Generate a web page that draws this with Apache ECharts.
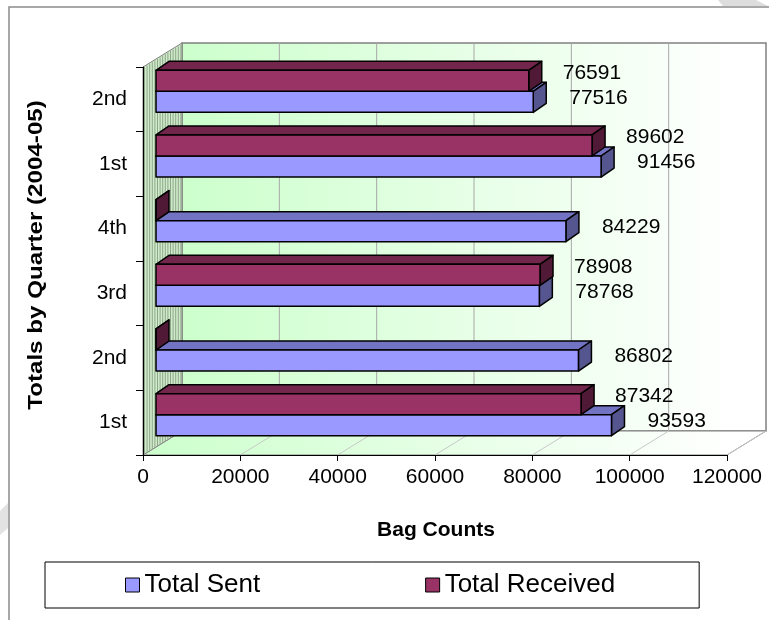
<!DOCTYPE html>
<html>
<head>
<meta charset="utf-8">
<script src="https://cdn.jsdelivr.net/npm/echarts@6/dist/echarts.min.js"></script>
<style>
  html, body { margin: 0; padding: 0; background: #ffffff; }
  #chart { width: 769px; height: 620px; }
</style>
</head>
<body>
<div id="chart"></div>
<script>
// Quarterly bag totals, listed bottom-to-top as the category axis runs.
const categories = ['1st', '2nd', '3rd', '4th', '1st', '2nd'];
const totalSent = [93593, 86802, 78768, 84229, 91456, 77516];
const totalReceived = [87342, 0, 78908, 0, 89602, 76591];
const xTicks = [0, 20000, 40000, 60000, 80000, 100000, 120000];
const seriesNames = ['Total Sent', 'Total Received'];
const xTitle = 'Bag Counts';
const yTitle = 'Totals by Quarter (2004-05)';

const FONT = '"Liberation Sans", Arial, Helvetica, sans-serif';

// Pseudo-3D geometry: wall depth and bar extrusion, in pixels.
const DEPTH_X = 39, DEPTH_Y = -24;
const BAR_DX = 13, BAR_DY = -9;
const BAR_RATIO = 0.325;

const palette = {
  sent: { front: '#9999FF', top: '#7373C4', side: '#55558F' },
  received: { front: '#993366', top: '#72264C', side: '#501A36' }
};

const chart = echarts.init(document.getElementById('chart'), null, { renderer: 'canvas' });

function wallGradient() {
  return new echarts.graphic.LinearGradient(0, 0, 1, 0, [
    { offset: 0, color: '#CCFFCC' },
    { offset: 0.95, color: '#FFFFFF' },
    { offset: 1, color: '#FFFFFF' }
  ]);
}

// Back wall, side wall and floor of the plot box, laid out from the front axes.
function frameRenderer(params, api) {
  const cs = params.coordSys;
  const L = cs.x, T = cs.y, R = cs.x + cs.width, B = cs.y + cs.height;
  const children = [];
  children.push({
    type: 'rect',
    shape: { x: L + DEPTH_X, y: T + DEPTH_Y, width: cs.width, height: cs.height },
    style: { fill: wallGradient(), stroke: '#808080', lineWidth: 1.5 }
  });
  children.push({
    type: 'polygon',
    shape: { points: [[L, B], [L + DEPTH_X, B + DEPTH_Y], [R + DEPTH_X, B + DEPTH_Y], [R, B]] },
    style: { fill: wallGradient(), stroke: '#808080', lineWidth: 1 }
  });
  xTicks.forEach(function (v) {
    const x = api.coord([v, 0])[0];
    if (v > xTicks[0] && v < xTicks[xTicks.length - 1]) {
      children.push({
        type: 'line',
        shape: { x1: x + DEPTH_X, y1: T + DEPTH_Y, x2: x + DEPTH_X, y2: B + DEPTH_Y },
        style: { stroke: '#A8A8A8', lineWidth: 1 }
      });
    }
    children.push({
      type: 'line',
      shape: { x1: x, y1: B, x2: x + DEPTH_X, y2: B + DEPTH_Y },
      style: { stroke: '#C8C8C8', lineWidth: 1 }
    });
  });
  // side wall with vertical hatching
  children.push({
    type: 'polygon',
    shape: { points: [[L, T], [L + DEPTH_X, T + DEPTH_Y], [L + DEPTH_X, B + DEPTH_Y], [L, B]] },
    style: { fill: '#CDEBC8', stroke: '#808080', lineWidth: 1 }
  });
  for (let x = L + 1.5; x < L + DEPTH_X; x += 2.6) {
    const t = (x - L) / DEPTH_X;
    children.push({
      type: 'line',
      shape: { x1: x, y1: T + DEPTH_Y * t + 1, x2: x, y2: B + DEPTH_Y * t },
      style: { stroke: '#8FA68A', lineWidth: 1 }
    });
  }
  return { type: 'group', children: children };
}

// One extruded bar: front face, top face, end face and its value label.
function barRenderer(colors, aboveCentre, labelDx, labelDy) {
  return function (params, api) {
    const cat = api.value(1), val = api.value(0);
    const base = api.coord([0, cat]);
    const end = api.coord([val, cat]);
    const band = api.size([0, 1])[1];
    const h = band * BAR_RATIO;
    const y0 = aboveCentre ? base[1] - h : base[1];
    const x0 = base[0], x1 = end[0];
    const edge = { stroke: '#000000', lineWidth: 1.5, lineJoin: 'round' };
    const children = [
      {
        type: 'polygon',
        shape: { points: [[x0, y0], [x0 + BAR_DX, y0 + BAR_DY], [x1 + BAR_DX, y0 + BAR_DY], [x1, y0]] },
        style: Object.assign({ fill: colors.top }, edge)
      },
      {
        type: 'polygon',
        shape: { points: [[x1, y0], [x1 + BAR_DX, y0 + BAR_DY], [x1 + BAR_DX, y0 + h + BAR_DY], [x1, y0 + h]] },
        style: Object.assign({ fill: colors.side }, edge)
      },
      {
        type: 'rect',
        shape: { x: x0, y: y0, width: x1 - x0, height: h },
        style: Object.assign({ fill: colors.front }, edge)
      }
    ];
    if (val > 0) {
      children.push({
        type: 'text',
        style: {
          text: String(val), x: x1 + labelDx, y: y0 + h / 2 + labelDy,
          fill: '#000000', fontSize: 21, fontFamily: FONT,
          align: 'left', verticalAlign: 'middle'
        }
      });
    }
    return { type: 'group', children: children };
  };
}

const xMin = xTicks[0], xMax = xTicks[xTicks.length - 1], xStep = xTicks[1] - xTicks[0];

const option = {
  backgroundColor: '#ffffff',
  animation: false,
  grid: [
    { left: 143, top: 67, width: 584, height: 388 },   // front plane (axes)
    { left: 156, top: 59, width: 584, height: 388 }    // bar plane
  ],
  xAxis: [
    {
      gridIndex: 0, type: 'value', min: xMin, max: xMax, interval: xStep,
      axisLine: { show: true, lineStyle: { color: '#000000', width: 1 } },
      axisTick: { show: true, length: 6, lineStyle: { color: '#000000' } },
      axisLabel: {
        fontSize: 21, fontFamily: FONT, color: '#000000', margin: 12,
        formatter: function (v) { return String(v); }
      },
      splitLine: { show: false }
    },
    { gridIndex: 1, type: 'value', min: xMin, max: xMax, interval: xStep, show: false }
  ],
  yAxis: [
    {
      gridIndex: 0, type: 'category', data: categories,
      axisLine: { show: true, lineStyle: { color: '#000000', width: 1 } },
      axisTick: { show: true, length: 7, lineStyle: { color: '#000000' } },
      axisLabel: { fontSize: 21, fontFamily: FONT, color: '#000000', margin: 16 },
      splitLine: { show: false }
    },
    { gridIndex: 1, type: 'category', data: categories, show: false }
  ],
  legend: {
    left: 45, top: 562,
    padding: [10, 84, 10, 80],
    itemGap: 165, itemWidth: 14, itemHeight: 14,
    borderColor: '#000000', borderWidth: 1,
    textStyle: { fontSize: 26, fontFamily: FONT, color: '#000000', lineHeight: 26 },
    selectedMode: false,
    data: [
      { name: seriesNames[0], icon: 'rect', itemStyle: { color: palette.sent.front, borderColor: '#000000', borderWidth: 1 } },
      { name: seriesNames[1], icon: 'rect', itemStyle: { color: palette.received.front, borderColor: '#000000', borderWidth: 1 } }
    ]
  },
  graphic: [
    { type: 'rect', z: -20, shape: { x: 9, y: 7, width: 800, height: 700 }, style: { fill: 'none', stroke: '#8C8C8C', lineWidth: 1.5 } },
    { type: 'polygon', z: -19, shape: { points: [[718, 0], [756, 0], [768, 6], [723, 6]] }, style: { fill: '#DDDDDD' } },
    { type: 'polygon', z: -19, shape: { points: [[0, 511], [8, 503], [8, 528], [0, 535]] }, style: { fill: '#E2E2E2' } },
    {
      type: 'text', x: 436, y: 530,
      style: { text: xTitle, fontSize: 21, fontWeight: 'bold', fontFamily: FONT, fill: '#000000', align: 'center', verticalAlign: 'middle' }
    },
    {
      type: 'text', x: 36, y: 255, rotation: Math.PI / 2, scaleX: 1.15,
      style: { text: yTitle, fontSize: 21, fontWeight: 'bold', fontFamily: FONT, fill: '#000000', align: 'center', verticalAlign: 'middle' }
    }
  ],
  series: [
    {
      type: 'custom', name: 'frame', xAxisIndex: 0, yAxisIndex: 0, z: -5, silent: true,
      data: [[xMin, 0]], renderItem: frameRenderer
    },
    {
      type: 'custom', name: seriesNames[0], xAxisIndex: 1, yAxisIndex: 1,
      itemStyle: { color: palette.sent.front },
      encode: { x: 0, y: 1 },
      data: totalSent.map(function (v, i) { return [v, i]; }),
      renderItem: barRenderer(palette.sent, false, 36, -4)
    },
    {
      type: 'custom', name: seriesNames[1], xAxisIndex: 1, yAxisIndex: 1,
      itemStyle: { color: palette.received.front },
      encode: { x: 0, y: 1 },
      data: totalReceived.map(function (v, i) { return [v, i]; }),
      renderItem: barRenderer(palette.received, true, 34, -8)
    }
  ]
};

chart.setOption(option);
</script>
</body>
</html>
